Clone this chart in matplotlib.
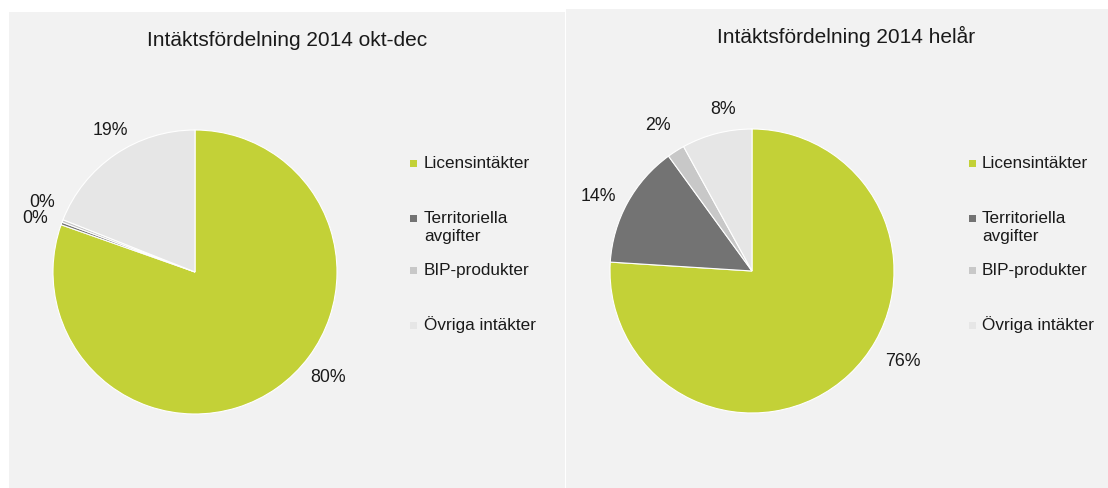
import matplotlib
matplotlib.use("Agg")
import matplotlib.pyplot as plt
from matplotlib.patches import Rectangle

plt.rcParams['font.family'] = ['Liberation Sans', 'DejaVu Sans']

categories = ["Licensintäkter", "Territoriella\navgifter", "BIP-produkter", "Övriga intäkter"]
colors = ["#c3d137", "#737373", "#c8c8c8", "#e6e6e6"]

titles = ["Intäktsfördelning 2014 okt-dec", "Intäktsfördelning 2014 helår"]
values_q4 = [80.4, 0.3, 0.3, 19.0]
labels_q4 = ["80%", "0%", "0%", "19%"]
values_year = [76.0, 14.0, 2.0, 8.0]
labels_year = ["76%", "14%", "2%", "8%"]

W, H = 1108, 488
fig = plt.figure(figsize=(W / 100, H / 100), dpi=100)
fig.patch.set_facecolor("white")

# pixel-coordinate overlay for panels, titles, legends
bg = fig.add_axes([0, 0, 1, 1], zorder=0)
bg.set_xlim(0, W)
bg.set_ylim(H, 0)
bg.axis("off")

panels = [(9, 12, 556, 476), (566, 9, 542, 479)]
for (x, y, w, h) in panels:
    bg.add_patch(Rectangle((x, y), w, h, facecolor="#f2f2f2", edgecolor="none"))

title_pos = [(287, 45.5), (846, 43)]
for t, (tx, ty) in zip(titles, title_pos):
    bg.text(tx, ty, t, ha="center", va="baseline", fontsize=15, color="#1a1a1a")

legend_x = [(413, 424), (972, 982)]
legend_y = [163, 218, 270, 325]
for sx, tx in legend_x:
    for cat, col, ly in zip(categories, colors, legend_y):
        bg.add_patch(Rectangle((sx - 3.5, ly - 3.5), 7, 7, facecolor=col, edgecolor="none"))
        first, *rest = cat.split("\n")
        bg.text(tx, ly + 5, first, ha="left", va="baseline", fontsize=12.3, color="#1a1a1a")
        for i, line in enumerate(rest, start=1):
            bg.text(tx, ly + 5 + 17.5 * i, line, ha="left", va="baseline", fontsize=12.3,
                    color="#1a1a1a")

# label positions in pie-radius units (layout)
label_xy_q4 = [(0.937, -0.746), (-1.127, 0.380), (-1.077, 0.486), (-0.599, 0.993)]
label_xy_year = [(1.063, -0.634), (-1.085, 0.528), (-0.662, 1.028), (-0.204, 1.134)]

centers = [(195, 272), (752, 271)]
R = 142
datasets = [(values_q4, labels_q4, label_xy_q4), (values_year, labels_year, label_xy_year)]
for (cx, cy), (vals, labs, lxy) in zip(centers, datasets):
    ax = fig.add_axes([(cx - R) / W, (H - cy - R) / H, 2 * R / W, 2 * R / H], zorder=1)
    ax.pie(vals, colors=colors, startangle=90, counterclock=False,
           wedgeprops=dict(edgecolor="white", linewidth=0.8))
    ax.set_xlim(-1, 1)
    ax.set_ylim(-1, 1)
    ax.set_aspect("equal")
    ax.axis("off")
    for lab, (lx, ly) in zip(labs, lxy):
        ax.text(lx, ly, lab, ha="center", va="center", fontsize=12.8, color="#1a1a1a",
                clip_on=False)

fig.savefig("out.png", dpi=100, facecolor="white")
